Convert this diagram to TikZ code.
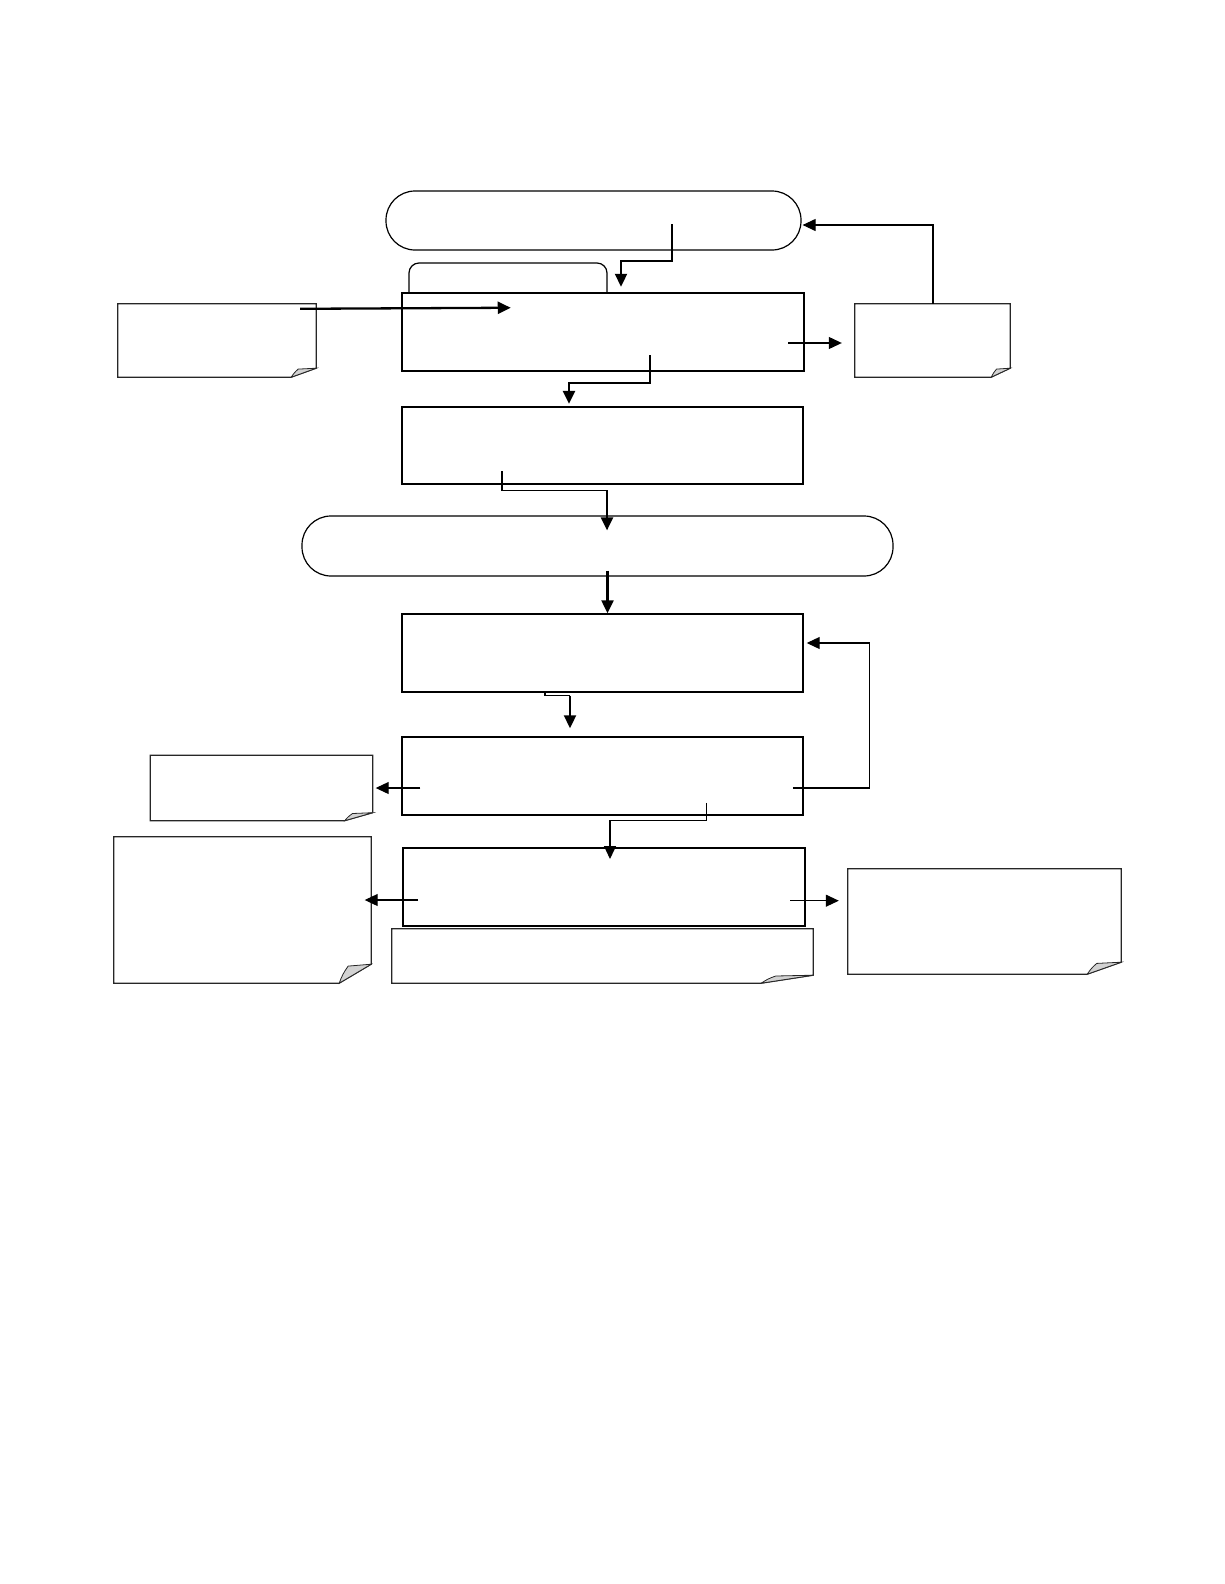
\documentclass[tikz,border=0pt]{standalone}
\usepackage{tikz}
\usetikzlibrary{arrows.meta,positioning}

\begin{document}
\begin{tikzpicture}[
  x=1pt, y=-1pt,
  box/.style={draw, fill=white, inner sep=0pt, line width=1.5pt},
  heavybox/.style={box, line width=2.3pt},
  pill/.style={draw, inner sep=0pt, line width=1.2pt, rounded corners=29pt},
  tab/.style={draw, inner sep=0pt, line width=1.2pt, rounded corners=10pt},
  note/.style={inner sep=0pt},
  edgeline/.style={draw=black!85, line width=1.2pt},
  fold/.style={draw=black!85, fill=gray!35, line width=0.8pt},
  conn/.style={line width=1.1pt},
  heavy/.style={line width=2.3pt},
  arrow/.style={-{Triangle[length=13pt,width=12pt]}}
]
\useasboundingbox (0,0) rectangle (1224,1584);

% main column
\node[pill, minimum width=415pt, minimum height=59pt] (begin) at (593.5,220.5) {};
\node[tab, minimum width=198pt, minimum height=42pt] (tab) at (508,284) {};
\node[heavybox, line width=2.5pt, minimum width=402pt, minimum height=78pt] (setup) at (603,332) {};
\node[heavybox, minimum width=401pt, minimum height=77pt] (config) at (602.5,445.5) {};
\node[pill, minimum width=591pt, minimum height=60pt] (mid) at (597.5,546) {};
\node[box, line width=1.4pt, minimum width=401pt, minimum height=78pt] (prep) at (602.5,653) {};
\node[box, minimum width=401pt, minimum height=78pt] (test) at (602.5,776) {};
\node[heavybox, line width=2pt, minimum width=402pt, minimum height=78pt] (final) at (604,887) {};

% notes
\node[note, minimum width=198pt, minimum height=73pt] (input) at (217,340.5) {};
\node[note, minimum width=155pt, minimum height=73pt] (msg) at (932.5,340.5) {};
\node[note, minimum width=222pt, minimum height=65pt] (warn) at (261.5,788) {};
\node[note, minimum width=257pt, minimum height=146pt] (errs) at (242.5,910) {};
\node[note, minimum width=421pt, minimum height=54pt] (remark) at (602.5,956) {};
\node[note, minimum width=273pt, minimum height=105pt] (results) at (984.5,921.5) {};

\foreach \n/\fx/\fy in {input/25/9, msg/19/9, warn/28/8, errs/32/19, remark/52/8, results/34/12}{
  \draw[edgeline] (\n.north west) -- (\n.north east) -- ([yshift=\fy pt]\n.south east)
    -- ([xshift=-\fx pt]\n.south east) -- (\n.south west) -- cycle;
  \filldraw[fold] ([xshift=-\fx pt]\n.south east) to[bend left=8] ([xshift={-0.72*\fx*1pt},yshift={0.9*\fy*1pt}]\n.south east)
    -- ([yshift=\fy pt]\n.south east) -- cycle;
}

% connectors
\draw[heavy, arrow] ([xshift=78.5pt,yshift=-3.5pt]begin.center) -- ++(0,37) -| ([xshift=18pt,yshift=5pt]setup.north);
\draw[heavy, arrow] ([xshift=-16pt,yshift=-5pt]input.north east) -- ([xshift=110pt,yshift=-16pt]setup.north west);
\draw[conn, arrow] ([xshift=-17pt,yshift=-11pt]setup.east) -- ([xshift=-13pt,yshift=-2.5pt]msg.west);
\draw[conn, arrow] ([xshift=0.5pt]msg.north) |- ([xshift=1pt,yshift=-4.5pt]begin.east);
\draw[heavy, arrow] ([xshift=47pt,yshift=17pt]setup.south) -- ++(0,28) -| ([xshift=-33.5pt,yshift=2pt]config.north);
\draw[conn] ([xshift=-100.5pt,yshift=14pt]config.south) -- ++(0,19) coordinate (k1) -- ([xshift=9.5pt]k1 -| mid.north);
\draw[heavy, arrow] ([xshift=9.5pt]k1 -| mid.north) -- ([xshift=9.5pt,yshift=-15pt]mid.north);
\draw[heavy, arrow] ([xshift=10pt,yshift=6pt]mid.south) -- ([xshift=5pt]prep.north);
\draw[conn] ([xshift=-57.5pt]prep.south) -- ++(0,3) coordinate (k2) -- ([xshift=-32.5pt]k2 -| test.north);
\draw[heavy, arrow] ([xshift=-32.5pt]k2 -| test.north) -- ([xshift=-32.5pt,yshift=8pt]test.north);
\draw[conn, arrow] ([xshift=19pt,yshift=-12pt]test.west) -- ([xshift=3pt]warn.east);
\draw[conn, arrow] ([xshift=-11pt,yshift=-12pt]test.east) -- ++(77,0) |- ([xshift=3pt,yshift=10pt]prep.east);
\draw[conn, arrow] ([xshift=104pt,yshift=13pt]test.south) -- ++(0,18) -| ([xshift=6pt,yshift=-12pt]final.north);
\draw[conn, arrow] ([xshift=16pt,yshift=-13pt]final.west) -- ([xshift=-6.5pt,yshift=10pt]errs.east);
\draw[conn, arrow] ([xshift=-16pt,yshift=-13.7pt]final.east) -- ([xshift=-9pt,yshift=20.8pt]results.west);
\end{tikzpicture}
\end{document}
